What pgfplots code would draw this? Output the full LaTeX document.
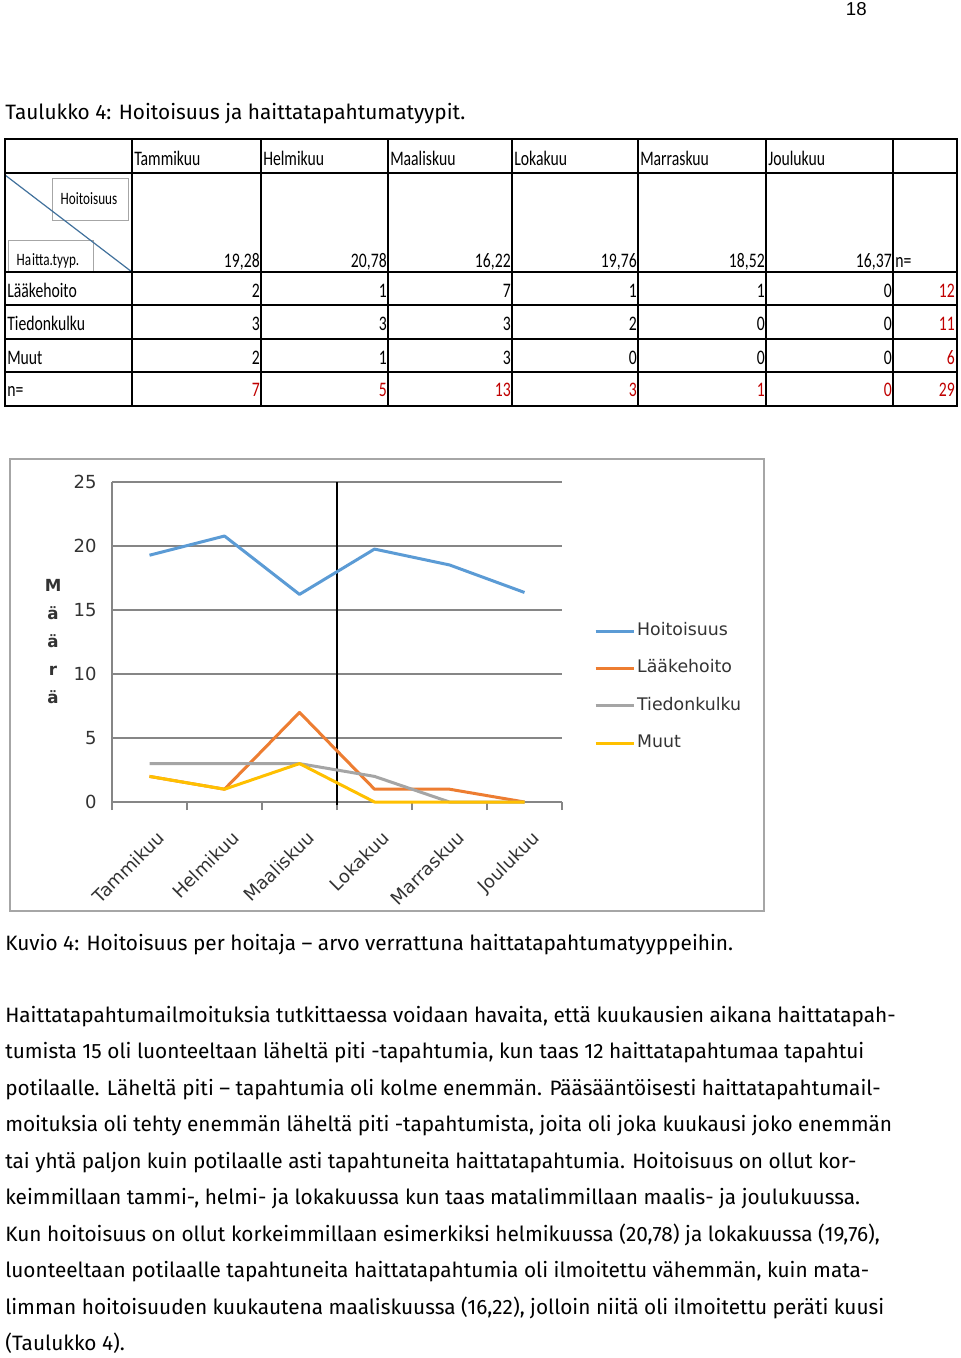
\documentclass[border=0pt]{standalone}
\usepackage{pgfplots}
\pgfplotsset{compat=1.18}
\usepackage{fontspec}
\setmainfont{Fira Sans}
\newfontfamily\tabfont[FakeStretch=0.76]{Carlito}
\newfontfamily\chartfont{DejaVu Sans}
\newfontfamily\numfont{Liberation Sans}
\definecolor{cblue}{HTML}{5B9BD5}
\definecolor{corange}{HTML}{ED7D31}
\definecolor{cgray}{HTML}{A5A5A5}
\definecolor{cyellow}{HTML}{FFC000}
\definecolor{gridgray}{HTML}{868686}
\definecolor{tred}{HTML}{C00000}
\definecolor{diag}{HTML}{41719C}
\begin{document}
\begin{tikzpicture}
\begin{scope}[x=0.75pt,y=-0.75pt]
\useasboundingbox (0,0) rectangle (960,1358);
\fill[white] (0,0) rectangle (960,1358);
% page number
\node[anchor=base east, font=\numfont\fontsize{14}{16}\selectfont, inner sep=0] at (867,16) {18};
% title
\node[anchor=base west, inner sep=0, font=\fontsize{15.6}{18}\selectfont] at (5,120) {Taulukko 4: Hoitoisuus ja haittatapahtumatyypit.};
% table boxes
\draw[black!35, line width=0.7pt] (52,178) rectangle (128,220);
\draw[black!35, line width=0.7pt] (8,240) rectangle (93,272);
\node[font=\tabfont\fontsize{13}{14}\selectfont, inner sep=0] at (89,199) {Hoitoisuus};
\node[font=\tabfont\fontsize{13}{14}\selectfont, inner sep=0, anchor=base] at (48,266) {Ha\kern0.6pt itta.tyyp.};
\draw[diag, line width=0.9pt] (5,175) -- (132,272);
% table lines
\foreach \x in {132,261,388,512,638,766,893} \draw[line width=1pt] (\x,139) -- (\x,406);
\foreach \y in {173,272,305,339,372} \draw[line width=1pt] (5,\y) -- (957,\y);
\draw[line width=1.4pt] (5,139) rectangle (957,406);
% header
\begin{scope}[every node/.style={font=\tabfont\fontsize{15.5}{17}\selectfont, inner sep=0}]
\node[anchor=base west] at (134,166) {Tammikuu};
\node[anchor=base west] at (263,166) {Helmikuu};
\node[anchor=base west] at (390,166) {Maaliskuu};
\node[anchor=base west] at (514,166) {Lokakuu};
\node[anchor=base west] at (640,166) {Marraskuu};
\node[anchor=base west] at (768,166) {Joulukuu};
\node[anchor=base east] at (260,268) {19,28};
\node[anchor=base east] at (387,268) {20,78};
\node[anchor=base east] at (511,268) {16,22};
\node[anchor=base east] at (637,268) {19,76};
\node[anchor=base east] at (765,268) {18,52};
\node[anchor=base east] at (892,268) {16,37};
\node[anchor=base west] at (895,268) {n=};
\node[anchor=base west] at (7,298) {Lääkehoito};
\node[anchor=base west] at (7,331) {Tiedonkulku};
\node[anchor=base west] at (7,364) {Muut};
\node[anchor=base west] at (7,397) {n=};
\foreach \v/\x in {2/260,1/387,7/511,1/637,1/765,0/892} \node[anchor=base east] at (\x,298) {\v};
\foreach \v/\x in {3/260,3/387,3/511,2/637,0/765,0/892} \node[anchor=base east] at (\x,331) {\v};
\foreach \v/\x in {2/260,1/387,3/511,0/637,0/765,0/892} \node[anchor=base east] at (\x,364) {\v};
\foreach \v/\x in {7/260,5/387,13/511,3/637,1/765,0/892,29/955} \node[anchor=base east, text=tred] at (\x,397) {\v};
\node[anchor=base east, text=tred] at (955,298) {12};
\node[anchor=base east, text=tred] at (955,331) {11};
\node[anchor=base east, text=tred] at (955,364) {6};
\end{scope}
% chart frame
\draw[black!35, line width=1.1pt] (10,459) rectangle (764,911);
% caption and body
\begin{scope}[every node/.style={anchor=base west, inner sep=0, font=\fontsize{15.6}{18}\selectfont}]
\node at (5,950) {Kuvio 4: Hoitoisuus per hoitaja – arvo verrattuna haittatapahtumatyyppeihin.};
\node at (5,1022) {Haittatapahtumailmoituksia tutkittaessa voidaan havaita, että kuukausien aikana haittatapah-};
\node at (5,1058.5) {tumista 15 oli luonteeltaan läheltä piti -tapahtumia, kun taas 12 haittatapahtumaa tapahtui};
\node at (5,1095) {potilaalle. Läheltä piti – tapahtumia oli kolme enemmän. Pääsääntöisesti haittatapahtumail-};
\node at (5,1131.5) {moituksia oli tehty enemmän läheltä piti -tapahtumista, joita oli joka kuukausi joko enemmän};
\node at (5,1168) {tai yhtä paljon kuin potilaalle asti tapahtuneita haittatapahtumia. Hoitoisuus on ollut kor-};
\node at (5,1204.5) {keimmillaan tammi-, helmi- ja lokakuussa kun taas matalimmillaan maalis- ja joulukuussa.};
\node at (5,1241) {Kun hoitoisuus on ollut korkeimmillaan esimerkiksi helmikuussa (20,78) ja lokakuussa (19,76),};
\node at (5,1277.5) {luonteeltaan potilaalle tapahtuneita haittatapahtumia oli ilmoitettu vähemmän, kuin mata-};
\node at (5,1314) {limman hoitoisuuden kuukautena maaliskuussa (16,22), jolloin niitä oli ilmoitettu peräti kuusi};
\node at (5,1350) {(Taulukko 4).};
\end{scope}
\end{scope}
\begin{axis}[
  at={(84pt,-601.5pt)}, anchor=south west,
  width=337.5pt, height=240pt, scale only axis,
  xmin=0, xmax=6, ymin=0, ymax=25, clip=false,
  axis x line*=bottom, axis y line*=left,
  axis line style={-, draw=gridgray, line width=1.1pt},
  ymajorgrids, grid style={gridgray, line width=1.1pt},
  ytick={0,5,...,25}, ytick style={draw=none},
  xtick={0.5,1.5,...,5.5},
  xticklabels={Tammikuu,Helmikuu,Maaliskuu,Lokakuu,Marraskuu,Joulukuu},
  xtick style={draw=none},
  extra x ticks={0,1,2,3,4,5,6}, extra x tick labels={},
  extra x tick style={xtick style={draw=gridgray, line width=1.1pt}, major tick length=6pt, tick align=outside},
  /pgf/number format/assume math mode=true,
  ticklabel style={font=\chartfont\fontsize{13.5}{15}\selectfont, text=black!80},
  yticklabel style={xshift=-8pt},
  xticklabel style={rotate=45, anchor=north east, xshift=-8pt, yshift=-14.5pt},
  legend style={at={(axis description cs:1.062,0.573)}, anchor=north west, draw=none, fill=none,
     font=\chartfont\fontsize{13}{15}\selectfont, text=black!80, row sep=13.5pt,
     nodes={inner sep=1.5pt, text height=9pt, text depth=2.5pt}},
  legend cell align=left,
  legend image code/.code={\draw[#1, line width=2.25pt] (-1.5pt,0pt) -- (27pt,0pt);},
]
\addplot[black, line width=0.9pt, forget plot] coordinates {(3,-0.25) (3,25)};
\addplot[cblue, line width=2.25pt, line join=round] coordinates {(0.5,19.28) (1.5,20.78) (2.5,16.22) (3.5,19.76) (4.5,18.52) (5.5,16.37)};
\addlegendentry{Hoitoisuus}
\addplot[corange, line width=2.25pt, line join=round] coordinates {(0.5,2) (1.5,1) (2.5,7) (3.5,1) (4.5,1) (5.5,0)};
\addlegendentry{Lääkehoito}
\addplot[cgray, line width=2.25pt, line join=round] coordinates {(0.5,3) (1.5,3) (2.5,3) (3.5,2) (4.5,0) (5.5,0)};
\addlegendentry{Tiedonkulku}
\addplot[cyellow, line width=2.25pt, line join=round] coordinates {(0.5,2) (1.5,1) (2.5,3) (3.5,0) (4.5,0) (5.5,0)};
\addlegendentry{Muut}
\node[font=\chartfont\bfseries\fontsize{12.5}{21}\selectfont, align=center, text=black!80] at (axis description cs:-0.131,0.5) {M\\ä\\ä\\r\\ä};
\end{axis}
\end{tikzpicture}
\end{document}
